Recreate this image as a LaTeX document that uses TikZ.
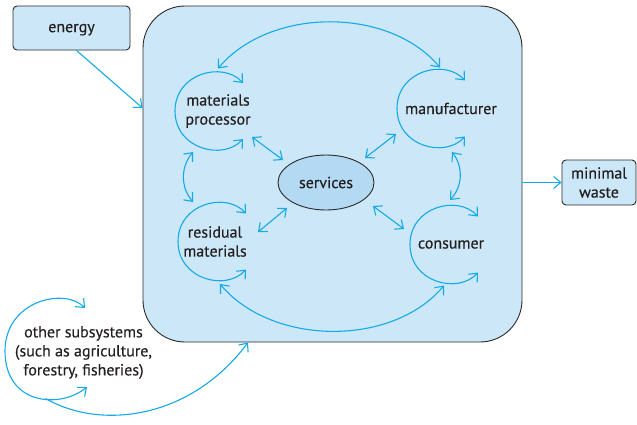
\documentclass[tikz,border=0pt]{standalone}
\usepackage{fontspec}
\setmainfont[FakeBold=0.3]{PT Sans}
\usetikzlibrary{arrows.meta, shapes.geometric}
\definecolor{link}{HTML}{14AAE8}
\definecolor{panel}{HTML}{CCE7F7}
\definecolor{hub}{HTML}{B4DAF3}
\definecolor{rim}{HTML}{2A2A2A}
\definecolor{ink}{HTML}{231F20}

\begin{document}
\begin{tikzpicture}[x=1pt, y=1pt,
  font=\fontsize{16}{19}\selectfont, text=ink,
  box/.style={draw=rim, fill=panel, rounded corners=4pt, line width=0.9pt, align=center},
  stage/.style={align=center, inner sep=1pt},
  flow/.style={draw=link, line width=1.1pt, -{Straight Barb[length=7pt, width=12pt]}},
  twoway/.style={flow, {Straight Barb[length=7pt, width=12pt]}-{Straight Barb[length=7pt, width=12pt]}}]
  \useasboundingbox (0,0) rectangle (637,-424);

  % System boundary
  \node[box, rounded corners=42pt, minimum width=379pt, minimum height=336pt] (sys) at (332.5,-174) {};

  % Inputs and outputs
  \node[box, text depth=0pt, minimum width=117pt, minimum height=44pt] (energy) at (71.5,-28) {energy};
  \node[box, minimum width=74pt, minimum height=45pt] (waste) at (599,-182.5) {minimal\\waste};

  % Stages inside the system
  \node[stage] (mproc) at (218,-111) {materials\\processor};
  \node[stage] (manuf) at (451,-108.5) {manufacturer};
  \node[stage] (resid) at (215,-241.5) {residual\\materials};
  \node[stage] (cons) at (451,-244.5) {consumer};
  \node[draw=rim, fill=hub, ellipse, line width=0.9pt, minimum width=96pt, minimum height=55pt] (serv) at (326,-182.5) {services};

  % Outside the system
  \node[stage] (other) at (83.5,-352.5) {other subsystems\\(such as agriculture,\\forestry, fisheries)};
  \coordinate (other-out) at ([shift={(-38,-46)}]other.center);

  % Recycling loops round each stage
  \foreach \n/\dx in {mproc/-7, manuf/-18, resid/-1, cons/-5} {
    \draw[twoway, shift={(\n.center)}, xshift=\dx]
      (32,28) .. controls (12,50) and (-36,38) .. (-36,0)
      .. controls (-36,-38) and (12,-50) .. (32,-28);
  }
  \draw[twoway, shift={(other.center)}, xshift=-37.5, yshift=1.5]
    (39,43) .. controls (18,64) and (-41,50) .. (-41,0)
    .. controls (-41,-54) and (14,-58) .. (41,-36);

  % Links between stages
  \draw[twoway] ([yshift=42.5]mproc.center) to[out=50, in=130, looseness=0.92] ([shift={(-11,41)}]manuf.center);
  \draw[twoway] ([shift={(5,-42.5)}]resid.center) to[out=-50, in=-130, looseness=0.92] ([shift={(-7,-41)}]cons.center);
  \draw[twoway] ([shift={(-25,-41)}]mproc.center) to[bend right=40] ([shift={(-22,39.5)}]resid.center);
  \draw[twoway] ([shift={(1,-43.5)}]manuf.center) to[bend left=40] ([shift={(-1,44.5)}]cons.center);

  % Links to services
  \foreach \a/\ax/\ay/\bx/\by in {mproc/34/-26/-43/22.5, manuf/-55/-25.5/39/24.5,
                                  resid/43/9.5/-39/-25.5, cons/-47/15.5/47/-23.5} {
    \draw[twoway] ([shift={(\ax,\ay)}]\a.center) -- ([shift={(\bx,\by)}]serv.center);
  }

  % Flows across the boundary
  \draw[flow] ([xshift=5]energy.south) -- ([yshift=66]sys.west);
  \draw[flow] (sys.east |- waste.west) -- (waste.west);
  \draw[flow] (other-out) .. controls (100,-430) and (190,-420) .. ([xshift=-84.5]sys.south);
\end{tikzpicture}
\end{document}
